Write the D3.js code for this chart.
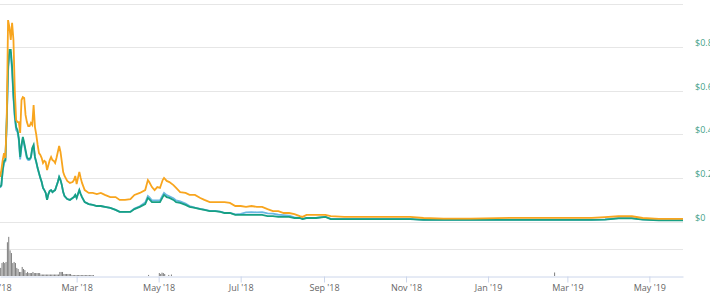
<!DOCTYPE html>
<html>
<head>
<meta charset="utf-8">
<script src="https://cdn.jsdelivr.net/npm/d3@7"></script>
<style>
  body { margin: 0; background: #fff; overflow: hidden; }
  text { font-family: "Open Sans", sans-serif; }
</style>
</head>
<body>
<svg id="chart" width="710" height="296"></svg>
<script>
// price series
var dates = ["2018-01-03","2018-01-04","2018-01-05","2018-01-06","2018-01-07","2018-01-08","2018-01-09","2018-01-10","2018-01-11","2018-01-12",
  "2018-01-13","2018-01-14","2018-01-15","2018-01-16","2018-01-17","2018-01-18","2018-01-19","2018-01-20","2018-01-21","2018-01-22",
  "2018-01-23","2018-01-24","2018-01-25","2018-01-26","2018-01-27","2018-01-28","2018-01-29","2018-01-30","2018-01-31","2018-02-01",
  "2018-02-02","2018-02-03","2018-02-04","2018-02-05","2018-02-06","2018-02-07","2018-02-08","2018-02-09","2018-02-10","2018-02-11",
  "2018-02-12","2018-02-13","2018-02-14","2018-02-15","2018-02-16","2018-02-17","2018-02-18","2018-02-19","2018-02-20","2018-02-22",
  "2018-02-24","2018-02-26","2018-02-27","2018-02-28","2018-03-01","2018-03-02","2018-03-03","2018-03-04","2018-03-05","2018-03-07",
  "2018-03-10","2018-03-13","2018-03-16","2018-03-19","2018-03-22","2018-03-26","2018-03-30","2018-04-02","2018-04-06","2018-04-10",
  "2018-04-13","2018-04-17","2018-04-21","2018-04-23","2018-04-24","2018-04-26","2018-04-28","2018-04-30","2018-05-02","2018-05-04",
  "2018-05-05","2018-05-07","2018-05-09","2018-05-12","2018-05-14","2018-05-17","2018-05-21","2018-05-24","2018-05-28","2018-06-01",
  "2018-06-04","2018-06-08","2018-06-12","2018-06-16","2018-06-19","2018-06-23","2018-06-27","2018-07-01","2018-07-05","2018-07-09",
  "2018-07-13","2018-07-17","2018-07-21","2018-07-25","2018-07-29","2018-08-02","2018-08-06","2018-08-10","2018-08-14","2018-08-16",
  "2018-08-19","2018-08-26","2018-09-02","2018-09-06","2018-09-16","2018-09-30","2018-10-20","2018-11-04","2018-11-14","2018-11-29",
  "2018-12-19","2019-01-18","2019-02-17","2019-03-19","2019-03-29","2019-04-08","2019-04-18","2019-04-26","2019-05-08","2019-05-26"];

var orangeSeries = [0.204,0.236,0.282,0.314,0.291,0.466,0.924,0.892,0.833,0.911,
  0.833,0.603,0.466,0.456,0.456,0.406,0.557,0.571,0.567,0.489,
  0.456,0.438,0.438,0.452,0.443,0.534,0.433,0.397,0.351,0.314,
  0.305,0.291,0.268,0.278,0.273,0.236,0.259,0.282,0.296,0.282,
  0.278,0.268,0.291,0.319,0.346,0.319,0.273,0.227,0.209,0.186,
  0.177,0.181,0.19,0.209,0.172,0.2,0.227,0.2,0.177,0.144,
  0.131,0.131,0.126,0.131,0.122,0.112,0.112,0.099,0.099,0.103,
  0.122,0.131,0.144,0.19,0.181,0.158,0.144,0.158,0.154,0.19,
  0.2,0.186,0.181,0.167,0.154,0.135,0.131,0.122,0.122,0.108,
  0.099,0.089,0.089,0.089,0.089,0.085,0.071,0.071,0.067,0.071,
  0.067,0.067,0.057,0.048,0.048,0.039,0.039,0.034,0.025,0.021,
  0.03,0.03,0.03,0.025,0.021,0.021,0.021,0.021,0.016,0.013,
  0.013,0.017,0.017,0.017,0.02,0.024,0.024,0.016,0.012,0.012];

var tealSeries = [0.158,0.167,0.236,0.278,0.282,0.466,0.709,0.787,0.787,0.709,
  0.58,0.489,0.433,0.42,0.383,0.296,0.351,0.388,0.36,0.328,
  0.296,0.287,0.287,0.296,0.337,0.351,0.296,0.273,0.245,0.222,
  0.2,0.181,0.154,0.144,0.131,0.099,0.126,0.14,0.144,0.135,
  0.14,0.144,0.163,0.181,0.204,0.19,0.167,0.135,0.117,0.103,
  0.099,0.108,0.112,0.122,0.108,0.126,0.144,0.126,0.112,0.089,
  0.08,0.076,0.071,0.071,0.067,0.062,0.053,0.044,0.044,0.044,
  0.057,0.067,0.08,0.108,0.103,0.089,0.089,0.089,0.089,0.112,
  0.122,0.112,0.108,0.099,0.089,0.085,0.076,0.067,0.062,0.057,
  0.053,0.048,0.048,0.044,0.039,0.039,0.03,0.03,0.03,0.03,
  0.03,0.03,0.025,0.025,0.021,0.021,0.021,0.016,0.016,0.011,
  0.016,0.016,0.021,0.011,0.011,0.011,0.011,0.011,0.007,0.007,
  0.007,0.007,0.007,0.007,0.009,0.014,0.014,0.009,0.005,0.005];

var blueSeries = [0.155,0.163,0.23,0.27,0.276,0.45,0.69,0.765,0.77,0.69,
  0.565,0.475,0.42,0.41,0.372,0.285,0.342,0.38,0.352,0.32,
  0.29,0.282,0.283,0.292,0.333,0.347,0.293,0.27,0.243,0.221,
  0.2,0.181,0.154,0.144,0.131,0.099,0.126,0.14,0.144,0.135,
  0.14,0.144,0.163,0.181,0.204,0.19,0.167,0.135,0.117,0.103,
  0.099,0.108,0.112,0.122,0.108,0.126,0.144,0.126,0.112,0.089,
  0.08,0.076,0.071,0.071,0.067,0.062,0.053,0.044,0.044,0.045,
  0.059,0.07,0.087,0.117,0.112,0.097,0.097,0.097,0.097,0.121,
  0.131,0.121,0.116,0.107,0.097,0.092,0.082,0.071,0.064,0.058,
  0.054,0.049,0.049,0.045,0.04,0.04,0.033,0.035,0.042,0.043,
  0.042,0.043,0.037,0.036,0.031,0.029,0.027,0.019,0.017,0.012,
  0.017,0.017,0.022,0.012,0.012,0.012,0.012,0.012,0.008,0.008,
  0.008,0.008,0.008,0.008,0.01,0.016,0.016,0.01,0.006,0.006];

// volume (millions), one bar per day from volStart, plus a few later bars
var volStart = "2018-01-03";
var volDaily = [6,9.6,10.4,9.6,10.4,25,29,19,17,9.6,
  10.4,9.6,6,5.2,3,3,6.7,5.2,4.4,2.2,
  3,2.2,2.2,2.2,3,2.2,2.2,2.2,2.2,2.2,
  1.1,1.1,1.1,1.1,1.1,1.1,1.1,1.1,1.1,1.1,
  1.1,1.1,1.1,1.1,3,3,3,1.5,1.5,1.5,
  1.5,1.5,1.5,0.7,0.7,0.7,0.7,0.7,0.7,0.7,
  0.7,0.7,0.7,0.7,0.7,0.7,0.7,0.7,0.7,0.7];
var volLaterDates = ["2018-04-23","2018-05-01","2018-05-02","2018-05-03","2018-05-04","2018-05-05","2018-05-08","2018-05-10","2019-02-19"];
var volLater = [0.8,2.2,1.5,2.5,2.2,1.5,0.8,1.1,2.6];

var priceTicks = [0, 0.2, 0.4, 0.6, 0.8, 1];
var priceLabels = ["$0", "$0.2", "$0.4", "$0.6", "$0.8"];
var volTicks = [0, 20];
var tickDates = ["2018-01-01","2018-03-01","2018-05-01","2018-07-01","2018-09-01","2018-11-01","2019-01-01","2019-03-01","2019-05-01"];

var parse = d3.timeParse("%Y-%m-%d");
var svg = d3.select("#chart");
var plotRight = 683;

var x = d3.scaleTime()
  .domain([parse("2018-01-03"), parse("2019-05-26")])
  .range([0, plotRight]);
var yP = d3.scaleLinear().domain([0, 1]).range([221.5, 3.5]);
var yV = d3.scaleLinear().domain([0, 20]).range([276, 249]);

var pts = dates.map(function(d, i) {
  return { date: parse(d), o: orangeSeries[i], t: tealSeries[i], b: blueSeries[i] };
});

// grid
svg.append("g").selectAll("line")
  .data(priceTicks)
  .enter().append("line")
    .attr("x1", 0).attr("x2", plotRight)
    .attr("y1", function(d) { return Math.round(yP(d)) + 0.5; })
    .attr("y2", function(d) { return Math.round(yP(d)) + 0.5; })
    .style("stroke", "#e6e6e6");

svg.append("line")
  .attr("x1", 0).attr("x2", plotRight)
  .attr("y1", Math.round(yV(20)) + 0.5).attr("y2", Math.round(yV(20)) + 0.5)
  .style("stroke", "#e6e6e6");

// price labels
svg.append("g").selectAll("text")
  .data(priceLabels)
  .enter().append("text")
    .attr("x", 695)
    .attr("y", function(d, i) { return yP(priceTicks[i]) - 1; })
    .text(function(d) { return d; })
    .style("font-size", "9px")
    .style("fill", "#3f9f88");

// volume bars
var vday = d3.timeDay.offset;
var vStart = parse(volStart);
var vols = volDaily.map(function(v, i) { return { date: vday(vStart, i), v: v }; })
  .concat(volLater.map(function(v, i) { return { date: parse(volLaterDates[i]), v: v }; }));
var dayW = x(vday(vStart, 1)) - x(vStart);

svg.append("g").selectAll("rect")
  .data(vols)
  .enter().append("rect")
    .attr("x", function(d) { return x(d.date) + dayW * 0.5 - 0.5; })
    .attr("y", function(d) { return yV(d.v); })
    .attr("width", 1)
    .attr("height", function(d) { return yV(0) - yV(d.v); })
    .style("fill", "#7d7d7d");

// x axis
var xAxis = d3.axisBottom(x)
  .tickValues(tickDates.map(parse))
  .tickFormat(d3.timeFormat("%b '%y"))
  .tickSize(6)
  .tickSizeOuter(0)
  .tickPadding(2);

var ax = svg.append("g")
  .attr("transform", "translate(0," + (Math.round(yV(0)) + 0.5) + ")")
  .call(xAxis);
ax.select(".domain").style("stroke", "#ccd6eb");
ax.selectAll(".tick line").style("stroke", "#ccd6eb");
ax.selectAll(".tick text")
  .style("font-family", "'Open Sans', sans-serif")
  .style("font-size", "9px")
  .style("fill", "#666");

// lines
function lineFor(key) {
  return d3.line()
    .x(function(d) { return x(d.date); })
    .y(function(d) { return yP(d[key]); });
}

svg.append("path").datum(pts)
  .attr("d", lineFor("b"))
  .style("fill", "none").style("stroke", "#6ab7e3").style("stroke-width", 1.8);
svg.append("path").datum(pts)
  .attr("d", lineFor("t"))
  .style("fill", "none").style("stroke", "#17a084").style("stroke-width", 1.8);
svg.append("path").datum(pts)
  .attr("d", lineFor("o"))
  .style("fill", "none").style("stroke", "#f8a51e").style("stroke-width", 1.8);
</script>
</body>
</html>
